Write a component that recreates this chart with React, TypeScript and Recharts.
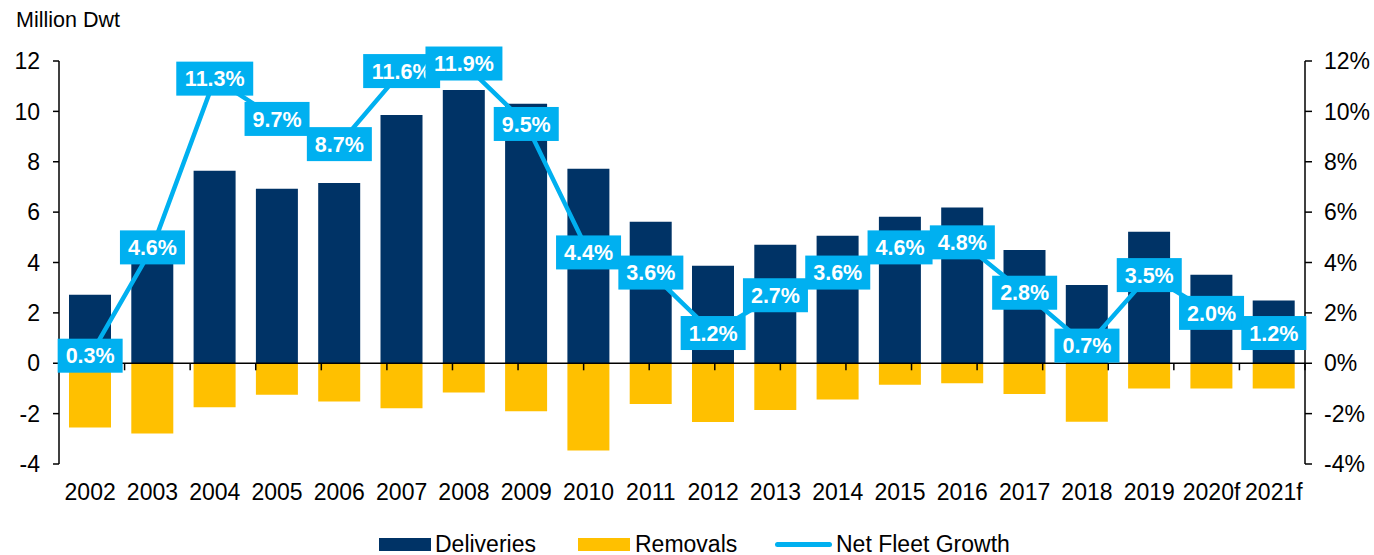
import React from "react";
import {
  ComposedChart,
  Bar,
  Line,
  XAxis,
  YAxis,
  ReferenceLine,
  LabelList,
} from "recharts";

const years = [
  "2002", "2003", "2004", "2005", "2006", "2007", "2008", "2009", "2010", "2011",
  "2012", "2013", "2014", "2015", "2016", "2017", "2018", "2019", "2020f", "2021f",
];
const deliveries = [
  2.72, 4.3, 7.64, 6.93, 7.16, 9.86, 10.85, 10.3, 7.72, 5.62,
  3.87, 4.7, 5.06, 5.82, 6.18, 4.5, 3.11, 5.22, 3.51, 2.49,
];
const removals = [
  -2.55, -2.79, -1.75, -1.25, -1.52, -1.79, -1.16, -1.91, -3.46, -1.62,
  -2.33, -1.86, -1.44, -0.85, -0.79, -1.22, -2.32, -1.0, -1.0, -1.0,
];
const netGrowth = [
  0.3, 4.6, 11.3, 9.7, 8.7, 11.6, 11.9, 9.5, 4.4, 3.6,
  1.2, 2.7, 3.6, 4.6, 4.8, 2.8, 0.7, 3.5, 2.0, 1.2,
];
const leftTicks = [-4, -2, 0, 2, 4, 6, 8, 10, 12];
const rightTicks = [-4, -2, 0, 2, 4, 6, 8, 10, 12];
const boundaries = [1, 2, 3, 4, 5, 6, 7, 8, 9, 10, 11, 12, 13, 14, 15, 16, 17, 18, 19];
const seriesNames = ["Deliveries", "Removals", "Net Fleet Growth"];

const data = years.map((y, i) => ({
  year: y,
  deliveries: deliveries[i],
  removals: removals[i],
  growth: netGrowth[i],
}));

const NAVY = "#003366";
const GOLD = "#FFC000";
const CYAN = "#00B0F0";
const FONT = "'Liberation Sans', Arial, sans-serif";

const charW: Record<string, number> = { ".": 0.278, "%": 0.889 };
function textWidth(s: string, size: number) {
  let w = 0;
  for (const c of s) w += charW[c] ?? 0.556;
  return w * size;
}

const LABEL_FS = 21.5;
const renderLabel = (props: any) => {
  const { x, y, value } = props;
  const txt = `${Number(value).toFixed(1)}%`;
  const w = textWidth(txt, LABEL_FS) + 16;
  const h = 34;
  return (
    <g>
      <rect x={x - w / 2} y={y - h / 2} width={w} height={h} fill={CYAN} />
      <text
        x={x}
        y={y}
        dy="0.36em"
        textAnchor="middle"
        fill="#fff"
        fontWeight="bold"
        fontSize={LABEL_FS}
        fontFamily={FONT}
      >
        {txt}
      </text>
    </g>
  );
};

const tickStyle = { fill: "#000", fontSize: 23, fontFamily: FONT };

export default function App() {
  return (
    <div style={{ position: "absolute", left: 0, top: 0, width: 1374, height: 555, background: "#fff" }}>
      <div
        style={{
          position: "absolute",
          left: 16,
          top: 8,
          fontSize: 21.5,
          fontFamily: FONT,
          color: "#000",
          lineHeight: "24px",
        }}
      >
        Million Dwt
      </div>
      <ComposedChart
        width={1374}
        height={555}
        data={data}
        stackOffset="sign"
        margin={{ top: 61, right: 0, bottom: 51, left: 0 }}
      >
        <XAxis
          dataKey="year"
          xAxisId="cat"
          axisLine={false}
          tickLine={false}
          tickSize={0}
          tickMargin={20}
          height={40}
          interval={0}
          tick={tickStyle}
        />
        <XAxis xAxisId="grid" type="number" domain={[0, 20]} hide />
        <YAxis
          yAxisId="left"
          domain={[-4, 12]}
          ticks={leftTicks}
          width={59}
          axisLine={{ stroke: "#000", strokeWidth: 1.5 }}
          tickLine={{ stroke: "#000", strokeWidth: 1.5 }}
          tickSize={6}
          tickMargin={13}
          tick={tickStyle}
        />
        <YAxis
          yAxisId="right"
          orientation="right"
          domain={[-4, 12]}
          ticks={rightTicks}
          width={69}
          axisLine={{ stroke: "#000", strokeWidth: 1.5 }}
          tickLine={{ stroke: "#000", strokeWidth: 1.5 }}
          tickSize={7}
          tickMargin={12}
          tickFormatter={(v: number) => `${v}%`}
          tick={tickStyle}
        />
        <Bar
          xAxisId="cat"
          yAxisId="left"
          dataKey="deliveries"
          name={seriesNames[0]}
          stackId="s"
          fill={NAVY}
          barSize={42}
          isAnimationActive={false}
        />
        <Bar
          xAxisId="cat"
          yAxisId="left"
          dataKey="removals"
          name={seriesNames[1]}
          stackId="s"
          fill={GOLD}
          barSize={42}
          isAnimationActive={false}
        />
        <ReferenceLine xAxisId="grid" yAxisId="left" y={0} stroke="#000" strokeWidth={1.5} />
        {boundaries.map((b) => (
          <ReferenceLine
            key={b}
            xAxisId="grid"
            yAxisId="left"
            segment={[
              { x: b, y: 0 },
              { x: b, y: -0.28 },
            ]}
            stroke="#000"
            strokeWidth={1.5}
          />
        ))}
        <Line
          xAxisId="cat"
          yAxisId="right"
          dataKey="growth"
          name={seriesNames[2]}
          stroke={CYAN}
          strokeWidth={4.5}
          dot={false}
          isAnimationActive={false}
        >
          <LabelList dataKey="growth" content={renderLabel} />
        </Line>
      </ComposedChart>
      {/* Legend */}
      <div style={{ position: "absolute", left: 379, top: 538, width: 52, height: 13, background: NAVY }} />
      <div style={{ position: "absolute", left: 435, top: 531, fontSize: 23, fontFamily: FONT, lineHeight: "26px" }}>
        {seriesNames[0]}
      </div>
      <div style={{ position: "absolute", left: 578, top: 538, width: 52, height: 13, background: GOLD }} />
      <div style={{ position: "absolute", left: 635, top: 531, fontSize: 23, fontFamily: FONT, lineHeight: "26px" }}>
        {seriesNames[1]}
      </div>
      <div
        style={{
          position: "absolute",
          left: 775,
          top: 542,
          width: 57,
          height: 5,
          borderRadius: 3,
          background: CYAN,
        }}
      />
      <div style={{ position: "absolute", left: 836, top: 531, fontSize: 23, fontFamily: FONT, lineHeight: "26px" }}>
        {seriesNames[2]}
      </div>
    </div>
  );
}
